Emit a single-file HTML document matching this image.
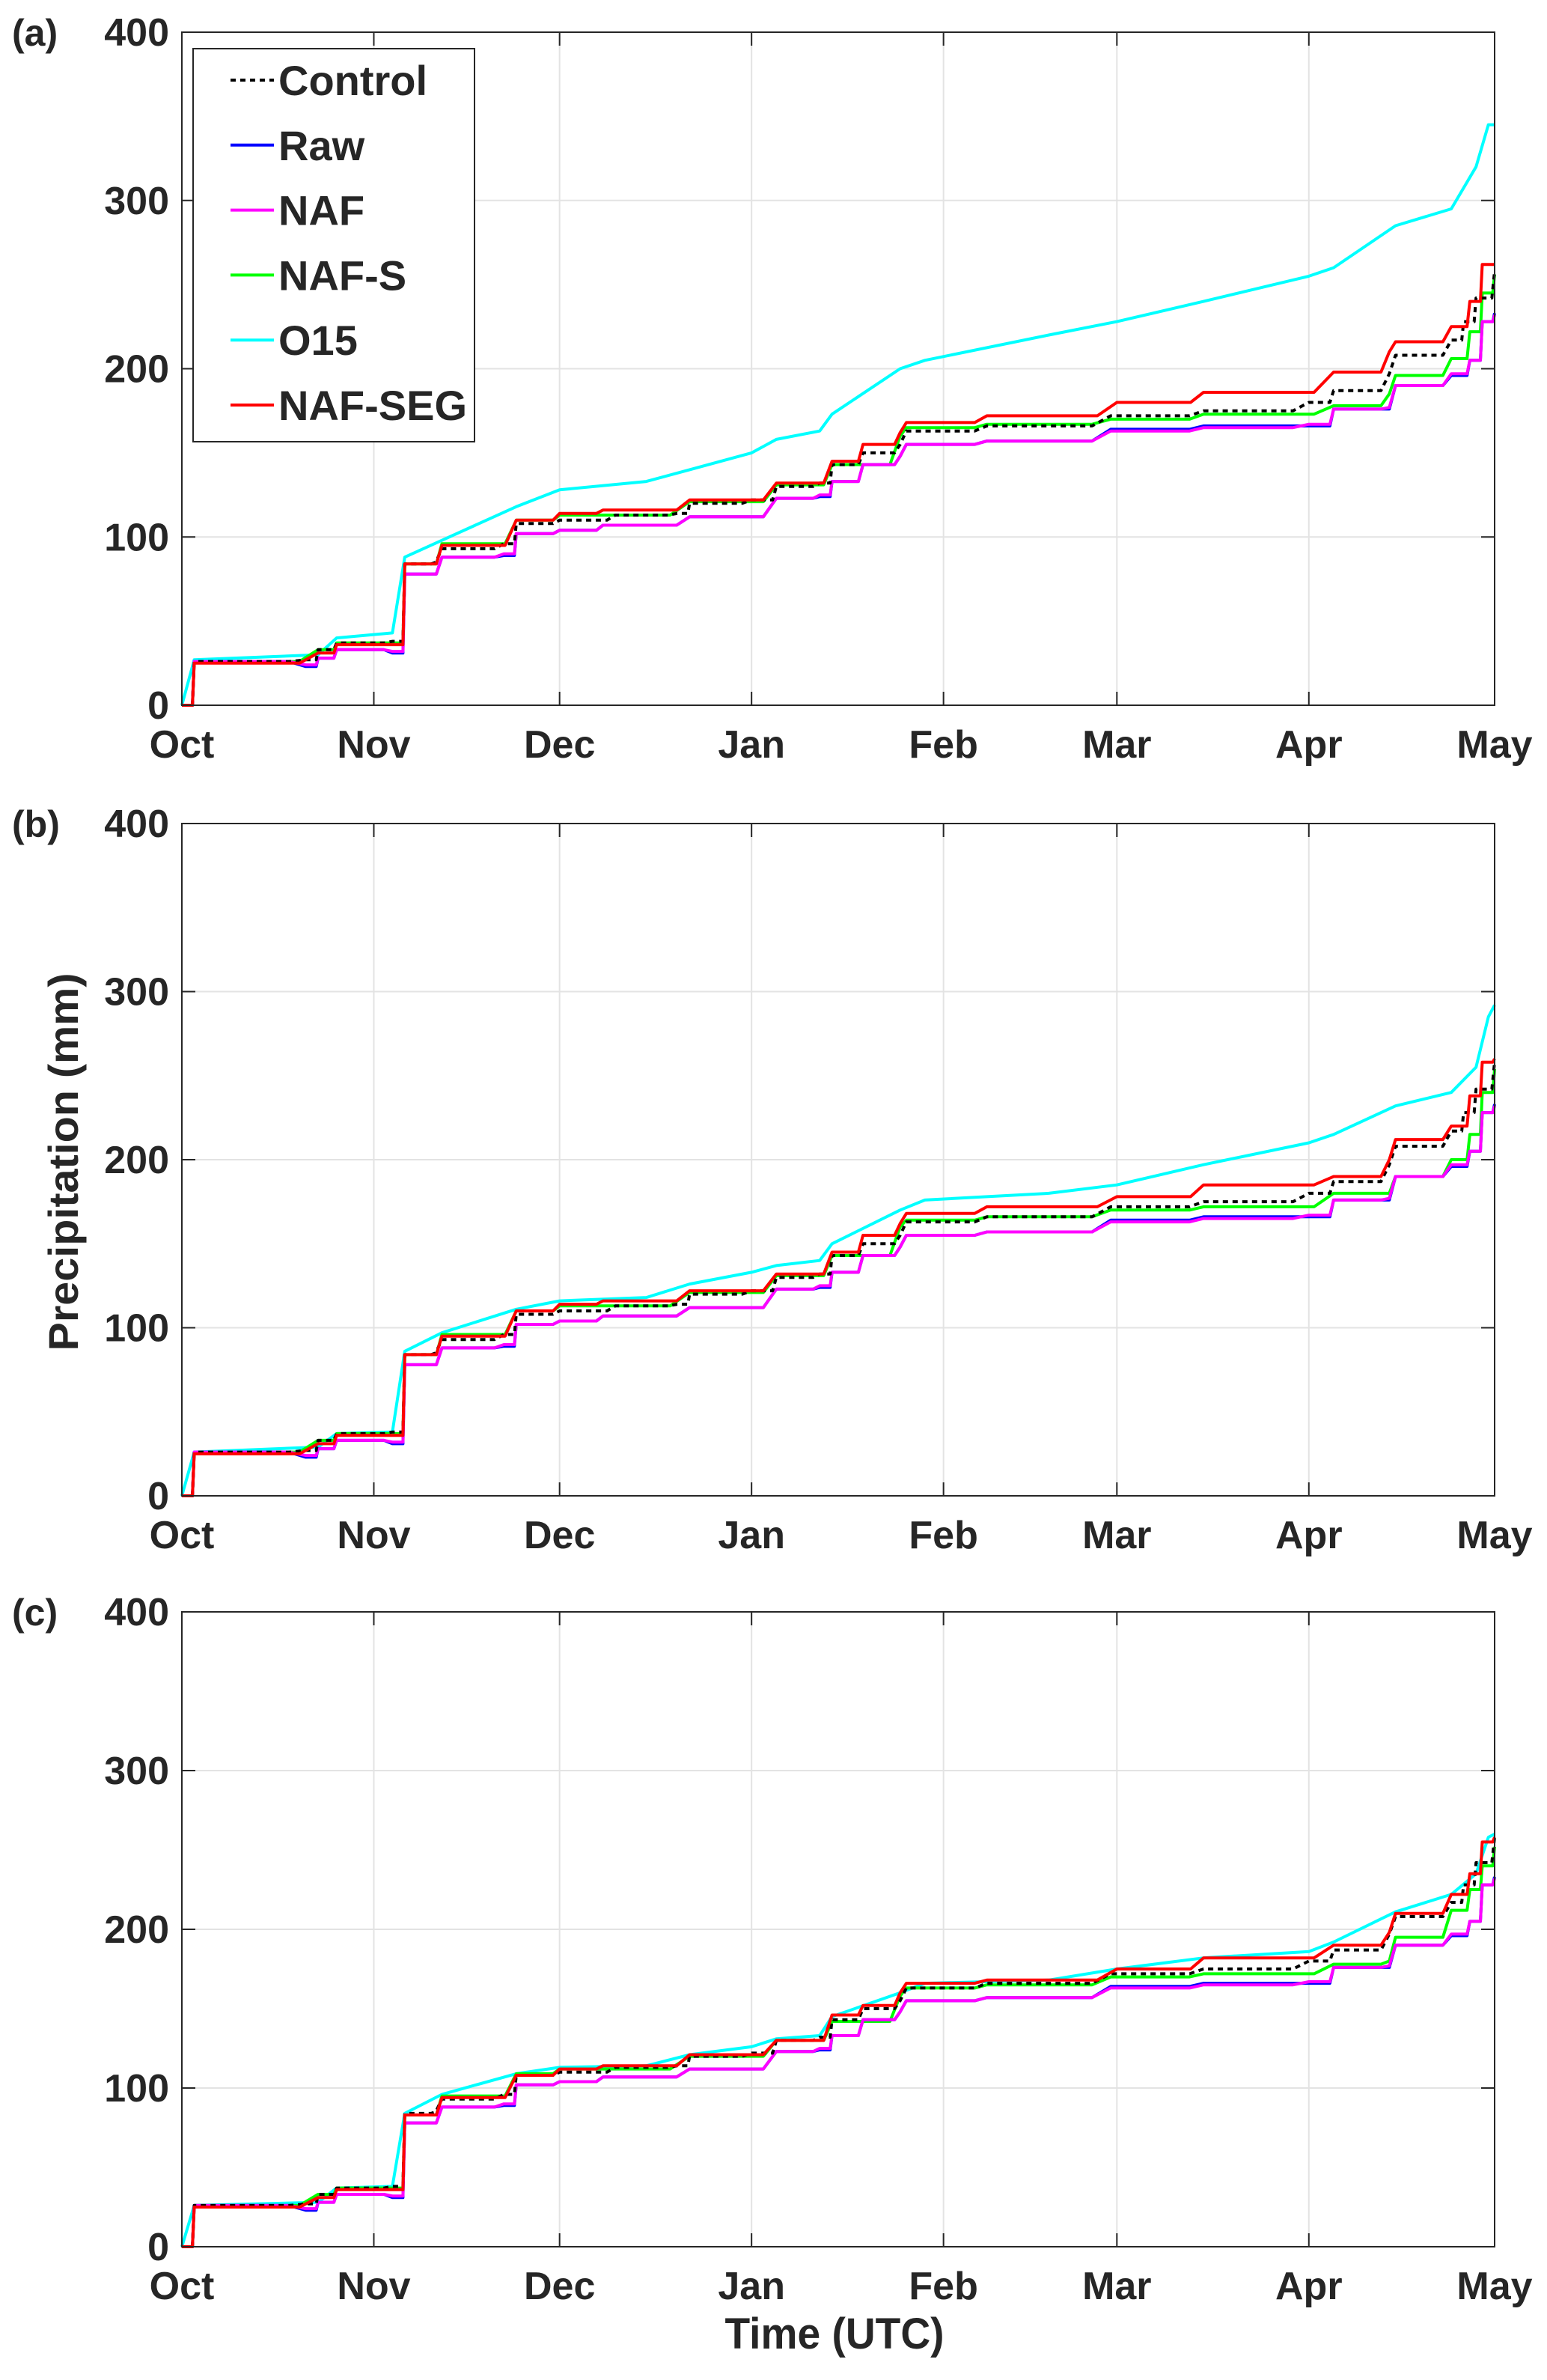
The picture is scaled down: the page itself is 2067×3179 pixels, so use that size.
<!DOCTYPE html>
<html><head><meta charset="utf-8">
<style>
html,body{margin:0;padding:0;background:#fff;}
svg{display:block;}
text{font-family:"Liberation Sans",Arial,sans-serif;font-weight:bold;fill:#262626;}
</style></head>
<body>
<svg id="chart" xmlns="http://www.w3.org/2000/svg" width="2067" height="3179" viewBox="0 0 2067 3179"></svg>
<script>
// ---- data (day since Oct 1, cumulative precipitation mm) ----
const monthLabels = ["Oct","Nov","Dec","Jan","Feb","Mar","Apr","May"];
const monthDays = [0,31,61,92,123,151,182,212];
const yTicks = [0,100,200,300,400];
const seriesNames = ["Control","Raw","NAF","NAF-S","O15","NAF-SEG"];

const controlDays = [0,2,20,22,25,34,36,41,42,52,54,61,70,80,82,92,96,103,105,110,116,117,130,150,165,182,186,195,196,205,207,209,212];
const controlVals = [0,26,27,33,37,38,84,85,93,96,108,110,113,114,120,122,130,132,143,150,155,163,166,172,175,180,187,197,208,217,228,242,258];

const rawDays = [0,2,20,22,25,34,36,42,52,54,61,68,82,96,103,105,110,116,117,130,150,165,182,186,195,196,205,208,210,212];
const rawVals = [0,26,23,28,33,31,78,88,89,102,104,107,112,123,124,133,143,148,155,157,164,166,166,176,176,190,196,205,228,233];
const nafVals = [0,26,24,28,33,32,78,88,90,102,104,107,112,123,125,133,143,148,155,157,163,165,167,176,177,190,197,205,228,232];

const nafsDaysA = [0,2,22,25,34,36,42,54,61,82,96,105,116,117,130,150,165,186,195,196,205,208,210,212];
const nafsValsA = [0,26,33,37,37,84,96,110,113,121,131,143,160,165,167,170,173,178,185,196,206,222,245,256];
const nafsValsB = [0,26,33,37,37,84,96,110,113,121,131,143,160,164,166,170,172,180,180,190,200,215,240,254];
const nafsValsC = [0,26,33,37,37,83,95,109,112,120,130,142,158,163,165,170,172,178,180,195,212,225,240,252];

const o15DaysA = [0,2,22,25,34,36,42,54,61,75,82,92,96,103,105,116,120,140,151,165,182,186,196,205,209,211,212];
const o15ValsA = [0,27,30,40,43,88,98,118,128,133,140,150,158,163,173,200,205,220,228,240,255,260,285,295,320,345,345];
const o15ValsB = [0,26,29,37,38,86,97,111,116,118,126,133,137,140,150,170,176,180,185,197,210,215,232,240,255,285,292];
const o15ValsC = [0,26,28,37,38,84,96,109,113,114,121,126,131,133,145,160,166,168,175,182,186,192,211,222,235,258,260];

const segDays = [0,2,22,25,34,36,42,54,61,68,82,96,105,110,116,117,130,151,165,186,195,196,205,208,210,212];
const segValsA = [0,25,31,36,36,84,95,110,114,116,122,132,145,155,162,168,172,180,186,198,210,216,225,240,262,262];
const segValsB = [0,25,31,36,36,84,95,110,114,116,122,132,145,155,162,168,172,178,185,190,200,212,220,238,258,260];
const segValsC = [0,25,31,36,36,83,94,108,112,114,121,130,146,152,160,166,168,175,182,190,198,210,222,235,255,258];

// ---- layout ----
const X0 = 243, X1 = 1997;
const panels = [
  {id:"a", top:43, bottom:942},
  {id:"b", top:1100, bottom:1998},
  {id:"c", top:2153, bottom:3001}
];
const panelSeries = {
  a:[[controlDays,controlVals],[rawDays,rawVals],[rawDays,nafVals],[nafsDaysA,nafsValsA],[o15DaysA,o15ValsA],[segDays,segValsA]],
  b:[[controlDays,controlVals],[rawDays,rawVals],[rawDays,nafVals],[nafsDaysA,nafsValsB],[o15DaysA,o15ValsB],[segDays,segValsB]],
  c:[[controlDays,controlVals],[rawDays,rawVals],[rawDays,nafVals],[nafsDaysA,nafsValsC],[o15DaysA,o15ValsC],[segDays,segValsC]]
};
const colors = ["#000000","#0000ff","#ff00ff","#00ff00","#00ffff","#ff0000"];
const drawOrder = [4,3,1,2,0,5];

const NS = "http://www.w3.org/2000/svg";
const svg = document.getElementById("chart");
function mk(tag, attrs, parent){
  const e = document.createElementNS(NS, tag);
  for (const k in attrs) e.setAttribute(k, attrs[k]);
  (parent||svg).appendChild(e);
  return e;
}
function xScale(d){ return X0 + (d/212)*(X1-X0); }

panels.forEach(p => {
  const yScale = v => p.bottom - (v/400)*(p.bottom-p.top);
  const g = mk("g", {});
  
  
  yTicks.forEach(t => {
    const y = yScale(t);
    const l = mk("line",{x1:X0,x2:X1,y1:y,y2:y,stroke:"#e3e3e3","stroke-width":2},g);
    
    
  });
  monthDays.forEach(d => {
    const x = xScale(d);
    const l = mk("line",{x1:x,x2:x,y1:p.top,y2:p.bottom,stroke:"#e3e3e3","stroke-width":2},g);
    
    
  });
  drawOrder.forEach(si => {
    const [ds, vs] = panelSeries[p.id][si];
    const stepFrac = (si===4) ? 0.0 : 0.85;
    let dstr = "M" + xScale(ds[0]).toFixed(1) + "," + yScale(vs[0]).toFixed(1);
    for (let i=1;i<ds.length;i++){
      if (stepFrac > 0 && ds[i]-ds[i-1] > 1) {
        const xa = xScale(ds[i-1] + (ds[i]-ds[i-1])*stepFrac);
        dstr += " L" + xa.toFixed(1) + "," + yScale(vs[i-1]).toFixed(1);
      }
      dstr += " L" + xScale(ds[i]).toFixed(1) + "," + yScale(vs[i]).toFixed(1);
    }
    const attrs = {d:dstr, fill:"none", stroke:colors[si], "stroke-width":4, "stroke-linejoin":"round"};
    if (si===0) attrs["stroke-dasharray"] = "7 6";
    const path = mk("path", attrs, g);
    
    
  });
  const box = mk("rect",{x:X0,y:p.top,width:X1-X0,height:p.bottom-p.top,fill:"none",stroke:"#262626","stroke-width":2},g);
  
  
  yTicks.forEach(t => {
    const y = yScale(t);
    mk("line",{x1:X0,x2:X0+18,y1:y,y2:y,stroke:"#262626","stroke-width":2},g);
    mk("line",{x1:X1-18,x2:X1,y1:y,y2:y,stroke:"#262626","stroke-width":2},g);
    const tx = mk("text",{x:226,y:y+18,"text-anchor":"end","font-size":52},g);
    tx.textContent = t;
    
    
  });
  monthDays.forEach((d,i) => {
    const x = xScale(d);
    mk("line",{x1:x,x2:x,y1:p.bottom-18,y2:p.bottom,stroke:"#262626","stroke-width":2},g);
    mk("line",{x1:x,x2:x,y1:p.top,y2:p.top+18,stroke:"#262626","stroke-width":2},g);
    const tx = mk("text",{x:x,y:p.bottom+70,"text-anchor":"middle","font-size":52},g);
    tx.textContent = monthLabels[i];
    
    
  });
  const pl = mk("text",{x:16,y:p.top+18,"font-size":50},g);
  pl.textContent = "(" + p.id + ")";
  
  
});

// legend
const lg = mk("g",{});


mk("rect",{x:258,y:65,width:376,height:525,fill:"#fff",stroke:"#262626","stroke-width":2},lg);
seriesNames.forEach((n,i) => {
  const y = 107 + i*86.8;
  const la = {x1:308,x2:366,y1:y,y2:y,stroke:colors[i],"stroke-width":4};
  if (i===0) la["stroke-dasharray"] = "7 6";
  const ln = mk("line",la,lg);
  
  
  const t = mk("text",{x:372,y:y+20,"font-size":56},lg);
  t.textContent = n;
  
  
});

const yt = mk("text",{x:0,y:0,"font-size":56,"text-anchor":"middle",textLength:505,lengthAdjust:"spacingAndGlyphs",transform:"translate(104,1552) rotate(-90)"});
yt.textContent = "Precipitation (mm)";


const xt = mk("text",{x:1115,y:3137,"font-size":58,"text-anchor":"middle",textLength:293,lengthAdjust:"spacingAndGlyphs"});
xt.textContent = "Time (UTC)";


</script>
</body></html>
